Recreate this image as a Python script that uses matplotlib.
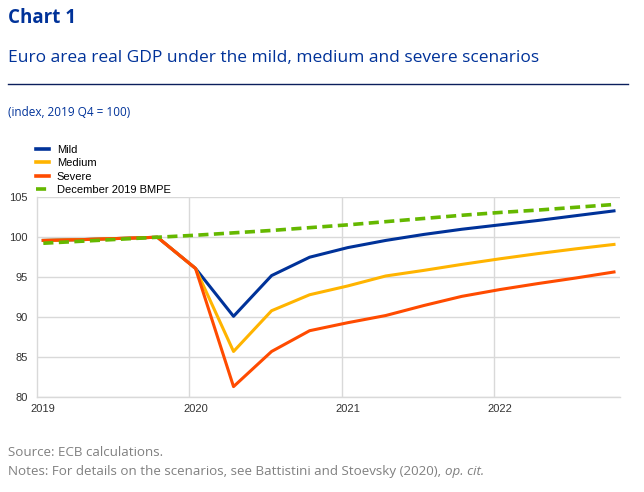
import numpy as np
import matplotlib
matplotlib.use("Agg")
import matplotlib.pyplot as plt
from matplotlib.transforms import offset_copy

# quarterly, 2019 Q1 .. 2022 Q4 (index, 2019 Q4 = 100)
quarters = np.arange(16)
mild = [99.6, 99.7, 99.85, 100.0, 96.1, 90.1, 95.2, 97.5,
        98.7, 99.6, 100.35, 101.0, 101.55, 102.1, 102.7, 103.3]
medium = [99.6, 99.7, 99.85, 100.0, 96.1, 85.7, 90.8, 92.8,
          93.9, 95.15, 95.85, 96.6, 97.3, 97.95, 98.55, 99.1]
severe = [99.6, 99.7, 99.85, 100.0, 96.1, 81.3, 85.7, 88.3,
          89.3, 90.2, 91.45, 92.6, 93.45, 94.2, 94.9, 95.65]
bmpe = [99.25, 99.5, 99.75, 100.0, 100.25, 100.55, 100.85, 101.2,
        101.55, 101.95, 102.35, 102.75, 103.1, 103.4, 103.75, 104.1]
years = ["2019", "2020", "2021", "2022"]

navy = "#003299"
grid_c = "#d9d9d9"

fig = plt.figure(figsize=(6.44, 4.92), dpi=100)
ax = fig.add_axes([37.3/644, 1-397/492, (620-37.3)/644, (397-197.3)/492])

lw = 2.2
ax.plot(quarters, mild, color="#003299", lw=lw, label="Mild")
ax.plot(quarters, medium, color="#ffb400", lw=lw, label="Medium")
ax.plot(quarters, severe, color="#ff4b00", lw=lw, label="Severe")
ax.plot(quarters, bmpe, color="#65b800", lw=2.6, ls=(0, (2.8, 1.5)),
        label="December 2019 BMPE")

ax.set_ylim(80, 105)
ax.set_yticks([80, 85, 90, 95, 100, 105])
off = -6/38
ax.set_xlim(off, 15 + 6/38)
ax.set_xticks([0, 4, 8, 12])
ax.set_xticklabels(years)
ax.set_xticks([4 + off, 8 + off, 12 + off], minor=True)
ax.tick_params(which="both", length=0)
ax.tick_params(axis="y", pad=7)
ax.tick_params(axis="x", pad=5)
ax.grid(axis="y", color=grid_c, lw=1)
ax.grid(axis="x", which="minor", color=grid_c, lw=1)
ax.set_axisbelow(True)
for s in ["top", "right"]:
    ax.spines[s].set_visible(False)
for s in ["left", "bottom"]:
    ax.spines[s].set_color(grid_c)
    ax.spines[s].set_linewidth(1)
for lab in ax.get_xticklabels() + ax.get_yticklabels():
    lab.set_fontfamily("Liberation Sans")
    lab.set_fontsize(8)
    lab.set_color("#333333")

leg = ax.legend(loc="lower left", bbox_to_anchor=(-0.003, 1.01), frameon=False,
                prop={"family": "Liberation Sans", "size": 8}, handlelength=1.2,
                handletextpad=0.7, labelspacing=0.32, borderaxespad=0, borderpad=0)
for h in leg.get_lines():
    h.set_linewidth(2.6)

fig.text(8/644, 1-18/492, "Chart 1", fontsize=13.5, fontweight="bold",
         color=navy, family="Open Sans", va="center")
fig.text(8/644, 1-58/492, "Euro area real GDP under the mild, medium and severe scenarios",
         fontsize=12.5, color=navy, family="Open Sans", va="center")
fig.add_artist(plt.Line2D([8/644, 628/644], [1-84/492, 1-84/492], color="#0b1f5c", lw=1))
fig.text(8/644, 1-112/492, "(index, 2019 Q4 = 100)", fontsize=8.5, color=navy,
         family="Open Sans", va="center")
fig.text(8/644, 1-452/492, "Source: ECB calculations.", fontsize=9.6, color="#808080",
         family="Open Sans", va="center")
note = fig.text(8/644, 1-471/492,
                "Notes: For details on the scenarios, see Battistini and Stoevsky (2020), ",
                fontsize=9.6, color="#808080", family="Open Sans", va="center")
fig.canvas.draw()
bb = note.get_window_extent()
fig.text(bb.x1 / fig.bbox.width, 1-471/492, "op. cit.", fontsize=9.6, color="#808080",
         family="Open Sans", style="italic", va="center")

fig.savefig("out.png", dpi=100)
